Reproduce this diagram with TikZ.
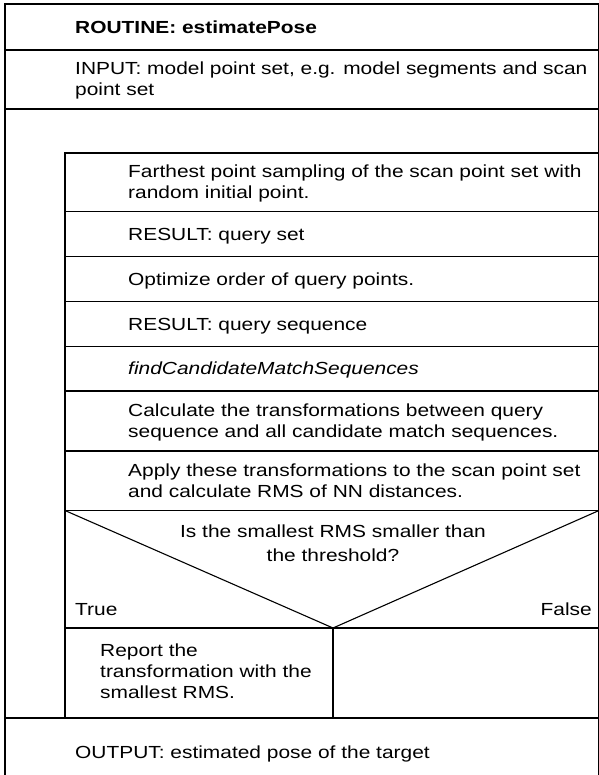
\documentclass[tikz,border=0pt]{standalone}
\usepackage{fontspec}
\setmainfont{Liberation Sans}[FakeStretch=1.195]
\begin{document}
\begin{tikzpicture}[x=1pt,y=-1pt,
  rule/.style={line width=1.1pt, line cap=rect},
  txt/.style={anchor=base west, inner sep=0pt, font=\fontsize{17.5}{21}\selectfont, align=left},
  ctxt/.style={anchor=base, inner sep=0pt, font=\fontsize{17.5}{24.5}\selectfont, align=center}]
\useasboundingbox (0,0) rectangle (598,775);
% key coordinates
\coordinate (oL) at (5,4);
\coordinate (oR) at (599,4);
\coordinate (iL) at (65,153);
\coordinate (vx) at (333,628);
% outer frame
\draw[rule] (5,4) -- (599,4);
\draw[rule] (5,50) -- (599,50);
\draw[rule] (5,109) -- (599,109);
\draw[rule] (5,718) -- (599,718);
\draw[rule] (5,4) -- (5,790);
\draw[rule] (599,4) -- (599,790);
% inner table
\draw[rule] (65,153) -- (65,718);
\foreach \yy in {153,211.7,256.7,301.7,346.7,391,451,510.5,628}
  \draw[rule] (65,\yy) -- (599,\yy);
% decision
\draw[rule] (65,510.5) -- (vx) -- (599,510.5);
\draw[rule] (vx) -- (333,718);
% texts (multi-line nodes are placed by the baseline of their last line)
\node[txt, font=\fontsize{17.5}{21}\selectfont\bfseries] (t1) at (75,33.5) {ROUTINE: estimatePose};
\node[txt] (t2) at (75,95.8) {INPUT: model point set, e.g. model segments and scan\\point set};
\node[txt] (t3) at (128,198.7) {Farthest point sampling of the scan point set with\\random initial point.};
\node[txt] (t4) at (128,240.2) {RESULT: query set};
\node[txt] (t5) at (128,285.2) {Optimize order of query points.};
\node[txt] (t6) at (128,330.2) {RESULT: query sequence};
\node[txt, font=\fontsize{17.5}{21}\selectfont\itshape] (t7) at (128,374.8) {findCandidateMatchSequences};
\node[txt] (t8) at (128,437.7) {Calculate the transformations between query\\sequence and all candidate match sequences.};
\node[txt] (t9) at (128,497.2) {Apply these transformations to the scan point set\\and calculate RMS of NN distances.};
\node[ctxt] (q) at (333,561.5) {Is the smallest RMS smaller than\\the threshold?};
\node[txt] (tt) at (75,615) {True};
\node[txt, anchor=base east] (tf) at (592,615) {False};
\node[txt] (rep) at (100,698.7) {Report the\\transformation with the\\smallest RMS.};
\node[txt] (out) at (75,758.3) {OUTPUT: estimated pose of the target};
\end{tikzpicture}
\end{document}
